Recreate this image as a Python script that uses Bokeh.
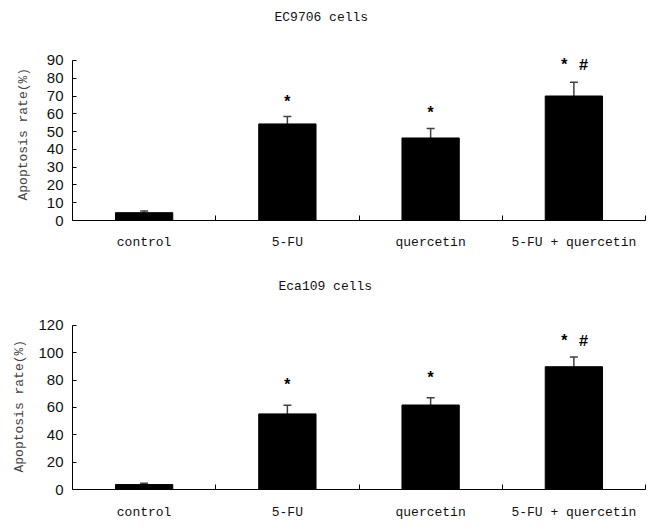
from bokeh.plotting import figure
from bokeh.layouts import column
from bokeh.models import (Range1d, FixedTicker, Whisker, ColumnDataSource,
                          TeeHead, LabelSet, Title)
from bokeh.core.properties import value
from bokeh.embed import file_html
from bokeh.resources import INLINE

# ---- data ----
categories = ["control", "5-FU", "quercetin", "5-FU + quercetin"]
y_label = "Apoptosis rate(%)"

ec_title = "EC9706 cells"
ec_values = [4.4, 54.3, 46.4, 70.0]
ec_errors = [0.9, 4.2, 5.4, 7.8]
ec_marks = ["", "*", "*", "* #"]
ec_mark_y = [0, 68.5, 62.3, 89.3]
ec_ticks = [0, 10, 20, 30, 40, 50, 60, 70, 80, 90]

eca_title = "Eca109 cells"
eca_values = [3.6, 55.3, 61.8, 89.8]
eca_errors = [0.9, 6.3, 5.3, 7.2]
eca_marks = ["", "*", "*", "* #"]
eca_mark_y = [0, 78.6, 83.8, 110.9]
eca_ticks = [0, 20, 40, 60, 80, 100, 120]

MONO = "Liberation Mono"


def make_panel(title, values, errors, marks, mark_y, ticks, y_end,
               width, height, b_left, b_top, b_bottom, b_right,
               title_offset, ylab_offset, ylab_standoff, xlabel_standoff):
    n = len(categories)
    xs = [i + 0.5 for i in range(n)]
    p = figure(width=width, height=height, output_backend="svg",
               toolbar_location=None, x_range=Range1d(0, n),
               y_range=Range1d(ticks[0], y_end),
               min_border_left=b_left, min_border_top=b_top,
               min_border_bottom=b_bottom, min_border_right=b_right)
    p.title.text = title
    p.title.align = "left"
    p.title.offset = title_offset
    p.title.text_font = MONO
    p.title.text_font_style = "normal"
    p.title.text_font_size = "13px"
    p.title.text_color = "#111111"
    p.outline_line_color = None
    p.xgrid.visible = False
    p.ygrid.visible = False
    p.background_fill_color = "white"

    src = ColumnDataSource(dict(x=xs, top=values,
                                upper=[v + e for v, e in zip(values, errors)],
                                mark=marks, my=mark_y))
    p.vbar(x="x", top="top", width=0.40, bottom=0, source=src,
           fill_color="black", line_color="black")
    w = Whisker(base="x", lower="top", upper="upper", source=src,
                dimension="height", lower_head=None,
                upper_head=TeeHead(size=8, line_color="#404040", line_width=1.5),
                line_color="#404040", line_width=1.5)
    p.add_layout(w)
    marks_ls = LabelSet(x="x", y="my", text="mark", source=src,
                        text_align="center", text_baseline="middle",
                        y_offset=-4,
                        text_font=value(MONO), text_font_style="bold",
                        text_font_size="16px", text_color="black")
    p.add_layout(marks_ls)

    # x axis: labels at category centres, ticks at boundaries
    xa = p.xaxis[0]
    xa.ticker = FixedTicker(ticks=xs, minor_ticks=[i + 1 for i in range(n)])
    xa.major_label_overrides = {x: c for x, c in zip(xs, categories)}
    xa.major_tick_line_color = None
    xa.major_tick_in = 0
    xa.major_tick_out = 0
    xa.minor_tick_in = 5
    xa.minor_tick_out = 0
    xa.minor_tick_line_color = "black"
    xa.axis_line_color = "black"
    xa.major_label_text_font = MONO
    xa.major_label_text_font_size = "13px"
    xa.major_label_text_color = "#111111"
    xa.major_label_standoff = xlabel_standoff

    ya = p.yaxis[0]
    ya.ticker = FixedTicker(ticks=ticks)
    ya.bounds = (ticks[0], ticks[-1])
    ya.minor_tick_line_color = None
    ya.major_tick_in = 4
    ya.major_tick_out = 0
    ya.major_label_standoff = 9
    ya.major_label_text_font = "Liberation Sans"
    ya.major_label_text_font_size = "15px"
    ya.major_label_text_color = "#111111"

    ylab = Title(text=y_label, align="left", offset=ylab_offset,
                 standoff=ylab_standoff, text_font=MONO,
                 text_font_style="normal", text_font_size="13px",
                 text_color="#444444")
    p.add_layout(ylab, "left")
    return p


p1 = make_panel(ec_title, ec_values, ec_errors, ec_marks, ec_mark_y, ec_ticks,
                107.4, 653, 269, 68, 29, 49, 7, 202, 20, 26, 14)
p2 = make_panel(eca_title, eca_values, eca_errors, eca_marks, eca_mark_y, eca_ticks,
                139.7, 653, 256, 71, 29, 36, 8, 206, 17, 18, 15)

layout = column(p1, p2, spacing=0)
open("out.html", "w").write(file_html(layout, INLINE))
